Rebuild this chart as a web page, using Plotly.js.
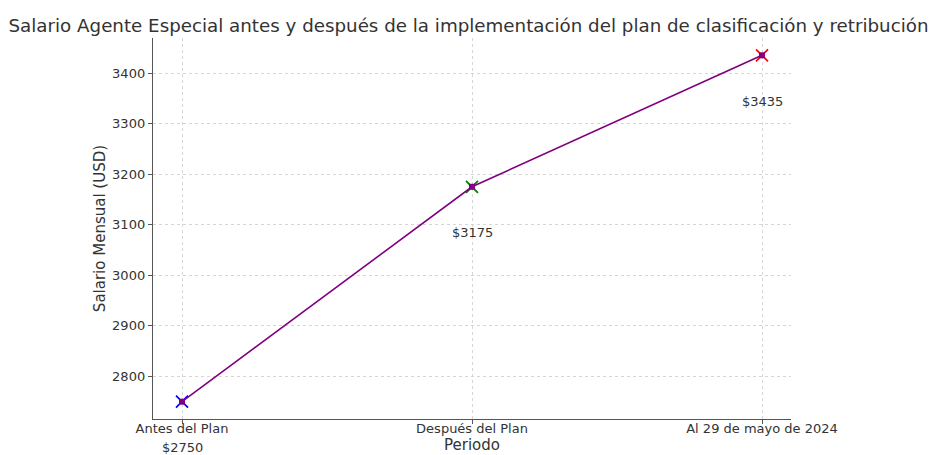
<!DOCTYPE html>
<html>
<head>
<meta charset="utf-8">
<script src="https://cdn.plot.ly/plotly-3.0.1.min.js"></script>
<style>html,body{margin:0;padding:0;background:#fff;}#chart{width:937px;height:455px;}</style>
</head>
<body>
<div id="chart"></div>
<script>
const periods = ["Antes del Plan", "Después del Plan", "Al 29 de mayo de 2024"];
const salaries = [2750, 3175, 3435];
const pointColors = ["blue", "green", "red"];
const labels = ["$2750", "$3175", "$3435"];

const font = "DejaVu Sans, sans-serif";
const traces = [
  {
    x: periods, y: salaries, type: "scatter", mode: "markers",
    marker: {symbol: "x-thin", size: 12, line: {color: pointColors, width: 1.7}},
    hoverinfo: "skip", showlegend: false
  },
  {
    x: periods, y: salaries, type: "scatter", mode: "lines+markers",
    line: {color: "#800080", width: 1.6},
    marker: {symbol: "square", size: 6, color: "#800080"},
    showlegend: false
  }
];

const annotations = periods.map((p, i) => ({
  x: p, y: salaries[i], xref: "x", yref: "y", text: labels[i],
  showarrow: false, yshift: -46, font: {family: font, size: 13, color: "#333"}
}));
annotations.push({
  x: 0.5, y: 0, xref: "paper", yref: "paper", text: "Periodo",
  showarrow: false, yanchor: "bottom", xanchor: "center", yshift: -36, borderpad: 0,
  font: {family: font, size: 15, color: "#333"}
});

const layout = {
  width: 937, height: 455,
  margin: {l: 153, r: 146, t: 38, b: 36},
  paper_bgcolor: "#fff", plot_bgcolor: "#fff",
  font: {family: font, size: 13, color: "#333"},
  title: {text: "Salario Agente Especial antes y después de la implementación del plan de clasificación y retribución",
          font: {family: font, size: 18.25, color: "#333"}, x: 0.5, xanchor: "center", y: 0.943, yanchor: "middle"},
  xaxis: {
    type: "category", range: [-0.1, 2.1],
    showline: true, linecolor: "#555", linewidth: 1.2,
    ticks: "outside", ticklen: 4, tickcolor: "#555",
    ticklabelstandoff: -7,
    showgrid: true, gridcolor: "#d6d6d6", griddash: "dot", gridwidth: 1,
    zeroline: false, automargin: false,
    tickfont: {family: font, size: 13, color: "#333"}
  },
  yaxis: {
    range: [2715.75, 3469.25],
    tickvals: [2800, 2900, 3000, 3100, 3200, 3300, 3400],
    showline: true, linecolor: "#555", linewidth: 1.2,
    ticks: "outside", ticklen: 4, tickcolor: "#555",
    showgrid: true, gridcolor: "#d6d6d6", griddash: "dot", gridwidth: 1,
    zeroline: false, automargin: false,
    tickfont: {family: font, size: 13, color: "#333"},
    title: {text: "Salario Mensual (USD)", font: {family: font, size: 15, color: "#333"}, standoff: 2}
  },
  annotations: annotations
};

Plotly.newPlot("chart", traces, layout, {displayModeBar: false, staticPlot: true});
</script>
</body>
</html>
